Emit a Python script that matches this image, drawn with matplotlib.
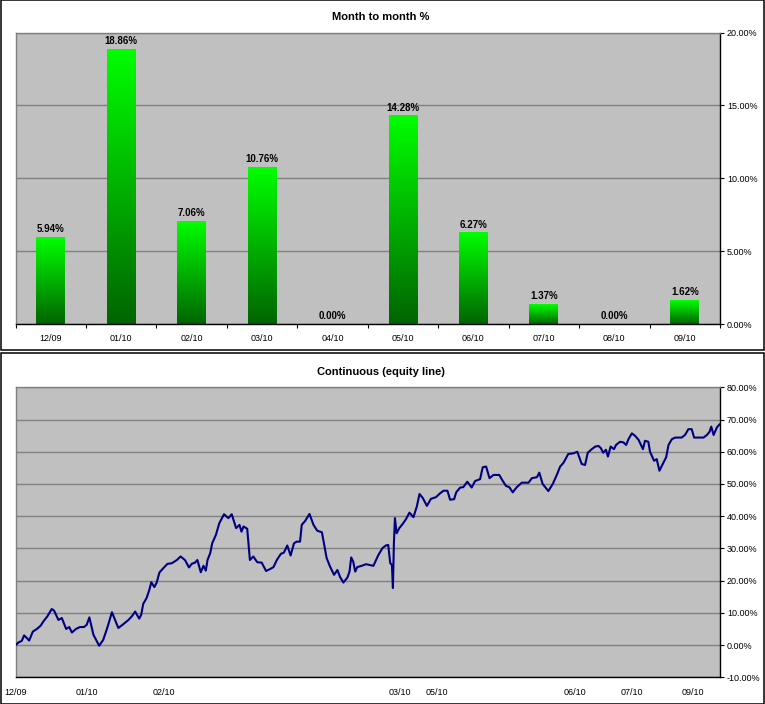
import matplotlib
matplotlib.use("Agg")
import matplotlib.pyplot as plt
from matplotlib.patches import Rectangle
from matplotlib.colors import LinearSegmentedColormap
import numpy as np

plt.rcParams['font.family'] = ['Liberation Sans', 'DejaVu Sans']

# monthly returns, %
months = ["12/09", "01/10", "02/10", "03/10", "04/10", "05/10", "06/10", "07/10", "08/10", "09/10"]
monthly = [5.94, 18.86, 7.06, 10.76, 0.00, 14.28, 6.27, 1.37, 0.00, 1.62]

# equity line, % (trading day, value)
day = [0.0, 0.7, 1.7, 2.4, 3.2, 3.9, 5.0, 6.2, 7.3, 8.1, 9.3, 10.6, 11.3, 12.6, 13.6, 14.9,
       15.8, 16.6, 17.8, 19.0, 20.2, 21.0, 21.8, 23.0, 23.8, 24.7, 25.9, 27.1, 28.5, 30.4,
       31.9, 33.4, 34.4, 35.4, 36.6, 37.2, 37.8, 38.8, 39.6, 40.2, 41.1, 41.8, 42.6, 43.8,
       45.0, 46.3, 47.8, 48.9, 50.2, 51.4, 52.2, 53.2, 53.9, 54.9, 55.7, 56.4, 56.9, 57.7,
       58.3, 59.4, 60.4, 61.8, 63.1, 64.1, 65.4, 66.4, 67.0, 67.6, 68.7, 69.5, 70.5, 71.7,
       73.0, 74.3, 75.5, 76.5, 77.5, 78.7, 79.6, 80.6, 81.6, 82.6, 83.4, 84.4, 84.9, 85.9,
       87.2, 88.4, 89.5, 90.9, 91.5, 92.3, 93.3, 94.5, 95.5, 96.3, 97.3, 98.5, 99.1, 99.6,
       100.2, 100.8, 101.4, 102.7, 104.0, 106.2, 107.7, 108.9, 109.9, 110.6, 111.2, 111.7,
       112.0, 112.3, 112.6, 113.1, 113.9, 114.9, 115.9, 116.9, 118.1, 119.1, 119.9, 120.9,
       122.1, 123.3, 124.8, 125.8, 127.0, 128.2, 129.0, 130.2, 130.8, 132.0, 132.9, 134.1,
       135.4, 136.4, 137.9, 138.7, 139.7, 140.7, 141.9, 143.6, 144.6, 145.6, 146.6, 147.6,
       148.8, 150.3, 152.3, 153.3, 154.8, 155.5, 156.5, 158.2, 159.5, 160.7, 161.7, 162.7,
       164.1, 165.6, 166.8, 168.1, 169.1, 169.9, 171.1, 172.1, 173.1, 173.8, 174.5, 175.3,
       175.9, 176.7, 177.7, 178.3, 179.5, 180.5, 181.3, 182.0, 183.0, 184.0, 185.0, 186.3,
       186.9, 187.9, 188.4, 189.6, 190.4, 191.2, 191.9, 193.2, 193.9, 194.9, 195.9, 197.8,
       198.8, 199.8, 200.8, 201.5, 204.3, 205.3, 206.1, 206.6, 207.3, 208.3, 209.1]
equity = [0.1, 0.8, 1.3, 3.0, 2.2, 1.4, 4.2, 5.0, 6.0, 7.3, 8.9, 11.2, 10.7, 7.8, 8.4, 5.0,
          5.6, 3.9, 5.0, 5.6, 5.6, 6.3, 8.6, 3.2, 1.6, -0.2, 1.6, 5.3, 10.2, 5.3,
          6.5, 7.8, 8.9, 10.4, 8.2, 9.4, 12.8, 14.6, 17.1, 19.5, 18.0, 19.4, 22.5, 23.9,
          25.2, 25.4, 26.4, 27.5, 26.4, 24.1, 25.2, 25.6, 26.4, 22.6, 24.6, 23.1, 26.4, 28.5,
          31.6, 34.2, 37.8, 40.6, 39.4, 40.6, 36.3, 37.3, 35.2, 36.8, 36.1, 26.4, 27.5, 25.7,
          25.6, 23.0, 23.6, 24.2, 26.4, 28.3, 28.7, 30.9, 27.8, 31.6, 32.1, 32.1, 37.3, 38.5,
          40.7, 37.3, 35.5, 35.0, 31.6, 27.0, 24.4, 21.8, 23.3, 21.1, 19.4, 21.0, 22.8, 27.2,
          25.9, 22.8, 24.2, 24.6, 25.1, 24.6, 28.0, 30.1, 30.9, 31.1, 25.4, 24.9,
          17.7, 31.9, 39.4, 34.7, 36.3, 37.6, 39.1, 41.1, 39.7, 43.0, 46.9, 45.6,
          43.2, 45.4, 45.9, 46.9, 47.9, 47.9, 45.1, 45.3, 47.4, 48.9, 49.0, 50.7,
          48.9, 50.9, 51.5, 55.2, 55.4, 51.8, 52.8, 52.8, 51.0, 49.4, 49.0, 47.4,
          49.0, 50.4, 50.4, 51.8, 52.1, 53.5, 50.0, 47.8, 50.0, 52.8, 55.4, 56.6,
          59.3, 59.5, 60.0, 56.2, 55.9, 59.7, 60.8, 61.6, 61.8, 61.1, 59.7, 60.6,
          58.5, 61.6, 60.8, 62.1, 63.1, 62.9, 62.1, 63.9, 65.7, 64.9, 63.7, 60.8,
          63.4, 63.1, 60.0, 57.2, 57.7, 54.1, 55.6, 58.3, 62.1, 63.9, 64.4, 64.4,
          65.2, 67.0, 67.0, 64.4, 64.4, 65.2, 66.2, 67.8, 65.2, 67.6, 68.5]

date_ticks = [0, 21, 44, 114, 125, 166, 183, 201]
date_labels = ["12/09", "01/10", "02/10", "03/10", "05/10", "06/10", "07/10", "09/10"]

W, H = 765, 704
fig = plt.figure(figsize=(W / 100, H / 100), dpi=100)
fig.patch.set_facecolor("white")

def px_axes(l, t, r, b):
    return fig.add_axes([l / W, 1 - b / H, (r - l) / W, (b - t) / H])

# panel frames
for (t, b) in [(0.5, 350), (353, 703.5)]:
    fig.patches.append(Rectangle((0.5 / W, 1 - b / H), 763.5 / W, (b - t) / H,
                                 transform=fig.transFigure, fill=False,
                                 edgecolor="black", linewidth=1.1))

grey_bg = "#C0C0C0"
grid_c = "#808080"

def style(ax):
    ax.set_facecolor(grey_bg)
    ax.yaxis.tick_right()
    ax.grid(axis="y", color=grid_c, linewidth=1.0)
    ax.set_axisbelow(True)
    ax.spines["top"].set_color(grid_c)
    ax.spines["left"].set_color(grid_c)
    ax.spines["right"].set_color("black")
    ax.spines["bottom"].set_color("black")
    for s in ax.spines.values():
        s.set_linewidth(1.0)
    ax.tick_params(axis="y", direction="out", length=3, width=0.8, pad=2, labelsize=6.5)

# ---- top: month to month
ax1 = px_axes(15.5, 32.5, 720, 324)
style(ax1)
cmap = LinearSegmentedColormap.from_list("g", ["#006400", "#00FF00"])
grad = np.linspace(0, 1, 256).reshape(-1, 1)
bw = 0.41
for i, v in enumerate(monthly):
    if v > 0:
        ax1.imshow(grad, extent=[i - bw / 2, i + bw / 2, 0, v], origin="lower",
                   cmap=cmap, aspect="auto", zorder=2)
    ax1.text(i, v + 0.55, f"{v:.2f}%", ha="center", va="center",
             fontsize=7, fontweight="bold", zorder=3)
ax1.set_xlim(-0.5, 9.5)
ax1.set_ylim(0, 20)
ax1.set_yticks(np.arange(0, 21, 5))
ax1.set_yticklabels([f"{v:.2f}%" for v in np.arange(0, 21, 5)])
ax1.set_xticks(range(len(months)))
ax1.set_xticklabels(months)
ax1.set_xticks(np.arange(-0.5, 10, 1), minor=True)
ax1.tick_params(axis="x", which="major", length=0, pad=7.5, labelsize=6.5)
ax1.tick_params(axis="x", which="minor", direction="out", length=3, width=0.8)
fig.text(381 / W, 1 - 17.5 / H, "Month to month %", ha="center", va="center",
         fontsize=8, fontweight="bold")

# ---- bottom: equity line
ax2 = px_axes(15.7, 387.3, 720, 677.3)
style(ax2)
ax2.plot(day, equity, color="#000080", linewidth=1.5, zorder=3)
ax2.set_xlim(-0.1, 209.2)
ax2.set_ylim(-10, 80)
ax2.set_yticks(np.arange(-10, 81, 10))
ax2.set_yticklabels([f"{v:.2f}%" for v in np.arange(-10, 81, 10)])
ax2.set_xticks(date_ticks)
ax2.set_xticklabels(date_labels)
ax2.tick_params(axis="x", length=0, pad=7.5, labelsize=6.5)
fig.text(381 / W, 1 - 372 / H, "Continuous (equity line)", ha="center", va="center",
         fontsize=8, fontweight="bold")

fig.savefig("out.png", dpi=100, facecolor="white")
